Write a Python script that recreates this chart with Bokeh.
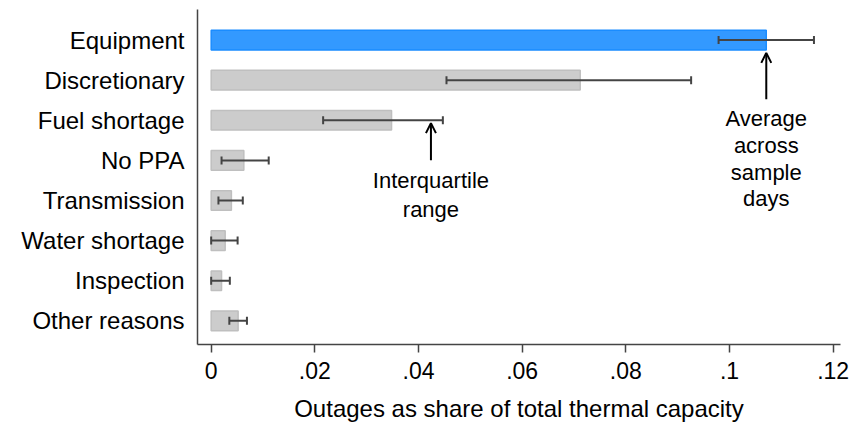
from bokeh.plotting import figure
from bokeh.models import ColumnDataSource, Range1d, Whisker, TeeHead, Arrow, OpenHead, FixedTicker, Label
from bokeh.embed import file_html
from bokeh.resources import INLINE

# ---- data ----
categories = ["Equipment", "Discretionary", "Fuel shortage", "No PPA",
              "Transmission", "Water shortage", "Inspection", "Other reasons"]
mean_share = [0.1071, 0.0712, 0.0348, 0.0063, 0.0039, 0.0027, 0.0020, 0.0052]
p25_share = [0.0979, 0.0454, 0.0216, 0.0020, 0.0014, 0.0000, 0.0000, 0.0035]
p75_share = [0.1163, 0.0926, 0.0447, 0.0111, 0.0061, 0.0051, 0.0036, 0.0069]
x_ticks = [0, 0.02, 0.04, 0.06, 0.08, 0.10, 0.12]
x_tick_labels = ["0", ".02", ".04", ".06", ".08", ".1", ".12"]
highlight = "Equipment"

FONT = "Liberation Sans"
n = len(categories)
ypos = [n - 1 - i for i in range(n)]
fills = ["#3399ff" if c == highlight else "#cccccc" for c in categories]
lines = ["#1a8cff" if c == highlight else "#bfbfbf" for c in categories]

src = ColumnDataSource(dict(y=ypos, cat=categories, mean=mean_share,
                            lo=p25_share, hi=p75_share, fill=fills, line=lines))

p = figure(width=852, height=424, output_backend="svg", toolbar_location=None,
           x_range=Range1d(-0.00264, 0.12142), y_range=Range1d(-0.59, 7.762),
           min_border_left=197, min_border_right=12, min_border_top=9, min_border_bottom=75)
p.outline_line_color = None
p.grid.visible = False
p.background_fill_color = "white"
p.border_fill_color = "white"

p.hbar(y="y", left=0, right="mean", height=0.49, source=src,
       fill_color="fill", line_color="line", line_width=1.5)

w = Whisker(source=src, base="y", lower="lo", upper="hi", dimension="width",
            line_color="#444444", line_width=2, level="overlay",
            lower_head=TeeHead(size=8, line_color="#444444", line_width=2),
            upper_head=TeeHead(size=8, line_color="#444444", line_width=2))
p.add_layout(w)

# x axis
xa = p.xaxis[0]
xa.ticker = FixedTicker(ticks=x_ticks)
xa.major_label_overrides = {t: l for t, l in zip(x_ticks, x_tick_labels)}
xa.minor_tick_line_color = None
xa.major_tick_out = 8
xa.major_tick_in = 0
xa.major_tick_line_color = "#444444"
xa.major_tick_line_width = 1.5
xa.axis_line_color = "#444444"
xa.axis_line_width = 1.5
xa.major_label_text_font = FONT
xa.major_label_text_font_size = "23px"
xa.major_label_text_color = "black"
xa.major_label_standoff = 9
xa.axis_label = "Outages as share of total thermal capacity"
xa.axis_label_text_font = FONT
xa.axis_label_text_font_size = "24px"
xa.axis_label_text_font_style = "normal"
xa.axis_label_text_color = "black"
xa.axis_label_standoff = 13

# y axis
ya = p.yaxis[0]
ya.ticker = FixedTicker(ticks=ypos)
ya.major_label_overrides = {y: c for y, c in zip(ypos, categories)}
ya.minor_tick_line_color = None
ya.major_tick_line_color = None
ya.major_tick_out = 0
ya.major_tick_in = 0
ya.axis_line_color = "#444444"
ya.axis_line_width = 1.5
ya.major_label_text_font = FONT
ya.major_label_text_font_size = "24px"
ya.major_label_text_color = "black"
ya.major_label_standoff = 13

# annotations
eq = categories.index("Equipment")
fu = categories.index("Fuel shortage")
p.add_layout(Arrow(end=OpenHead(size=10, line_width=2, line_color="black"),
                   x_start=mean_share[eq], y_start=ypos[eq] - 1.474,
                   x_end=mean_share[eq], y_end=ypos[eq] - 0.32,
                   line_width=2, line_color="black"))
p.add_layout(Arrow(end=OpenHead(size=10, line_width=2, line_color="black"),
                   x_start=0.0424, y_start=ypos[fu] - 0.998,
                   x_end=0.0424, y_end=ypos[fu] - 0.07,
                   line_width=2, line_color="black"))

avg_lines = ["Average", "across", "sample", "days"]
for i, t in enumerate(avg_lines):
    p.add_layout(Label(x=mean_share[eq], y=ypos[eq] - 1.966 - i * 0.663, text=t,
                       text_align="center", text_baseline="middle",
                       text_font=FONT, text_font_size="22px", text_color="black"))
iqr_lines = ["Interquartile", "range"]
for i, t in enumerate(iqr_lines):
    p.add_layout(Label(x=0.0424, y=ypos[fu] - 1.489 - i * 0.737, text=t,
                       text_align="center", text_baseline="middle",
                       text_font=FONT, text_font_size="22px", text_color="black"))

open("out.html", "w").write(file_html(p, INLINE))
